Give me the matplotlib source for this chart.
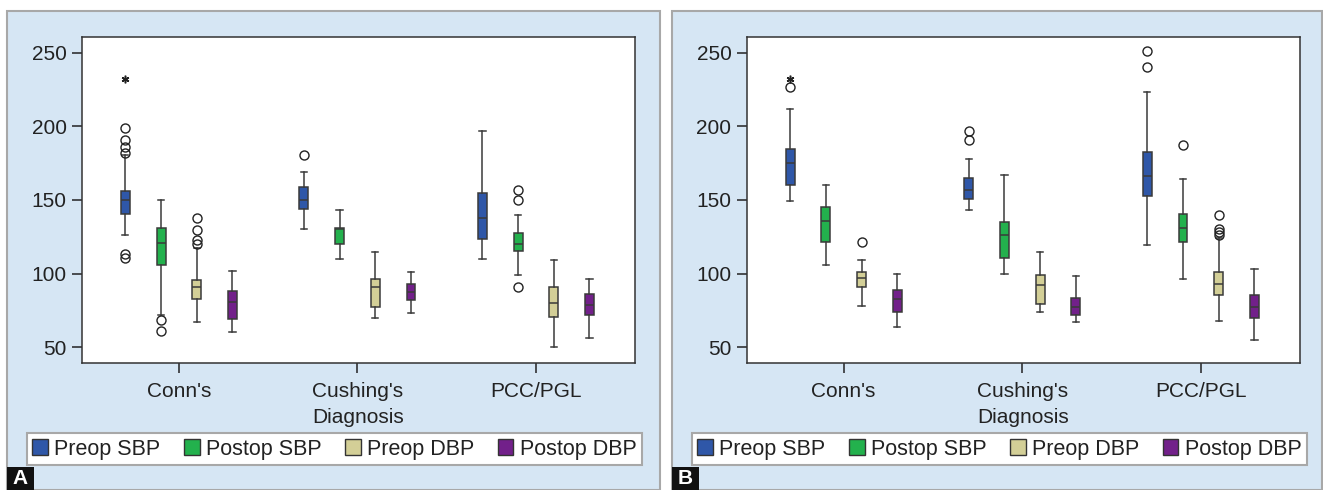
import matplotlib
matplotlib.use("Agg")
import matplotlib.pyplot as plt
from matplotlib.patches import Rectangle, Patch

plt.rcParams['font.family'] = ['Liberation Sans', 'DejaVu Sans']

categories = ["Conn's", "Cushing's", "PCC/PGL"]
series = ["Preop SBP", "Postop SBP", "Preop DBP", "Postop DBP"]
colors = ["#2F57A8", "#23B14D", "#D3CF97", "#72208A"]

# ---------- Panel A ----------
A_whislo = [[126, 130, 110], [71.5, 110, 99], [67, 70, 50], [60, 73.5, 56]]
A_q1 = [[140.5, 144, 123.5], [105.5, 120, 115.5], [83, 77.5, 70.5], [69, 82, 71.5]]
A_med = [[150, 150, 137.5], [120.5, 130.5, 120], [90.5, 90.5, 80], [80.5, 87.5, 78.5]]
A_q3 = [[156, 158.5, 154.5], [131, 130.8, 127.5], [95.5, 96.5, 90.5], [88, 93, 86]]
A_whishi = [[180.5, 169, 196.5], [150, 143, 140], [117, 114.5, 109.5], [101.5, 101, 96]]
A_fliers = [
    [[199, 190.5, 186, 182, 113, 110.5], [180.5], []],
    [[68.5, 61], [], [156.5, 150, 91]],
    [[137.5, 129.5, 123, 120], [], []],
    [[], [], []],
]
A_star = [[232.5], [], []]  # Preop SBP extreme values per category

# ---------- Panel B ----------
B_whislo = [[149, 143, 119.5], [106, 100, 96], [78, 74, 67.5], [63.5, 67, 55]]
B_q1 = [[160, 150.5, 152.5], [121.5, 110.5, 121.5], [91, 79.5, 85.5], [74, 72, 70]]
B_med = [[175, 157, 166], [135.5, 126.5, 131], [97, 92.5, 93], [83, 77.5, 77.5]]
B_q3 = [[184.5, 165, 182.5], [145, 135, 140.5], [101, 99, 101], [89, 83.5, 85.5]]
B_whishi = [[211.5, 177.5, 223.5], [160, 167, 164.5], [109, 114.5, 124], [100, 98, 103]]
B_fliers = [
    [[227], [196.5, 190.5], [251.5, 240.5]],
    [[], [], [187]],
    [[121.5], [], [140, 130, 128, 126.5]],
    [[], [], []],
]
B_star = [[232.5], [], []]

W, H = 1323, 490
fig = plt.figure(figsize=(W / 100, H / 100), dpi=100)
fig.patch.set_facecolor("white")

bg = "#D6E6F4"
# panel backgrounds
for x0, x1 in [(7, 660), (672, 1322)]:
    fig.patches.append(Rectangle((x0 / W, 0), (x1 - x0) / W, (H - 11) / H,
                                 transform=fig.transFigure, facecolor=bg,
                                 edgecolor="#A8A8A8", linewidth=1.5, zorder=-5))

offsets = [-0.3, -0.1, 0.1, 0.3]
lw = 1.1
lc = "#3A3A3A"


def draw(ax, whislo, q1, med, q3, whishi, fliers, star):
    for s in range(len(series)):
        stats = []
        for c in range(len(categories)):
            stats.append(dict(whislo=whislo[s][c], q1=q1[s][c], med=med[s][c],
                              q3=q3[s][c], whishi=whishi[s][c], fliers=fliers[s][c]))
        pos = [c + offsets[s] for c in range(len(categories))]
        ax.bxp(stats, positions=pos, widths=0.05, capwidths=0.035,
               patch_artist=True, manage_ticks=False,
               boxprops=dict(facecolor=colors[s], edgecolor=lc, linewidth=lw),
               medianprops=dict(color=lc, linewidth=lw),
               whiskerprops=dict(color=lc, linewidth=lw),
               capprops=dict(color=lc, linewidth=lw),
               flierprops=dict(marker="o", markerfacecolor="none",
                               markeredgecolor="#222222", markersize=6.5,
                               markeredgewidth=1.0))
    for c in range(len(categories)):
        for v in star[c]:
            ax.plot([c + offsets[0]], [v], marker=(6, 2, 0), color="#222222",
                    markersize=5.5, markeredgewidth=1.1, linestyle="none")
    ax.set_xlim(-0.543, 2.555)
    ax.set_ylim(39.2, 260.7)
    ax.set_yticks([50, 100, 150, 200, 250])
    ax.set_xticks(range(len(categories)))
    ax.set_xticklabels(categories)
    ax.set_xlabel("Diagnosis", fontsize=15, labelpad=5, color="#222222")
    ax.tick_params(axis="both", labelsize=15, colors="#222222", width=1.1,
                   length=7, direction="out")
    ax.tick_params(axis="x", pad=7)
    ax.tick_params(axis="y", pad=4)
    for sp in ax.spines.values():
        sp.set_color("#333333")
        sp.set_linewidth(1.1)
    ax.set_facecolor("white")


bottom = (H - 363) / H
height = (363 - 37) / H
axA = fig.add_axes([82 / W, bottom, (635 - 82) / W, height])
draw(axA, A_whislo, A_q1, A_med, A_q3, A_whishi, A_fliers, A_star)
axB = fig.add_axes([746.7 / W, bottom, (1300 - 746.7) / W, height])
draw(axB, B_whislo, B_q1, B_med, B_q3, B_whishi, B_fliers, B_star)

handles = [Patch(facecolor=colors[i], edgecolor="#333333", linewidth=1.0, label=series[i])
           for i in range(len(series))]
for x0, x1 in [(27, 642), (692, 1307)]:
    leg = fig.legend(handles=handles, loc="lower left", ncol=4, mode="expand",
                     bbox_to_anchor=(x0 / W, (H - 465) / H, (x1 - x0) / W, 34 / H),
                     frameon=True, fancybox=False, fontsize=15.5, framealpha=1,
                     handlelength=0.72, handleheight=0.72, handletextpad=0.3,
                     borderaxespad=0, borderpad=0.25, columnspacing=1.0)
    leg.get_frame().set_edgecolor("#A8A8A8")
    leg.get_frame().set_facecolor("white")
    leg.get_frame().set_linewidth(1.5)
    for t in leg.get_texts():
        t.set_color("#222222")

# panel letters
for x0, lab in [(7, "A"), (672, "B")]:
    fig.patches.append(Rectangle((x0 / W, 0), 27 / W, 23 / H, transform=fig.transFigure,
                                 facecolor="#111111", edgecolor="none", zorder=5))
    fig.text((x0 + 13.5) / W, 11.5 / H, lab, color="white", fontsize=15,
             fontweight="bold", ha="center", va="center", zorder=6)

fig.savefig("out.png", dpi=100)
